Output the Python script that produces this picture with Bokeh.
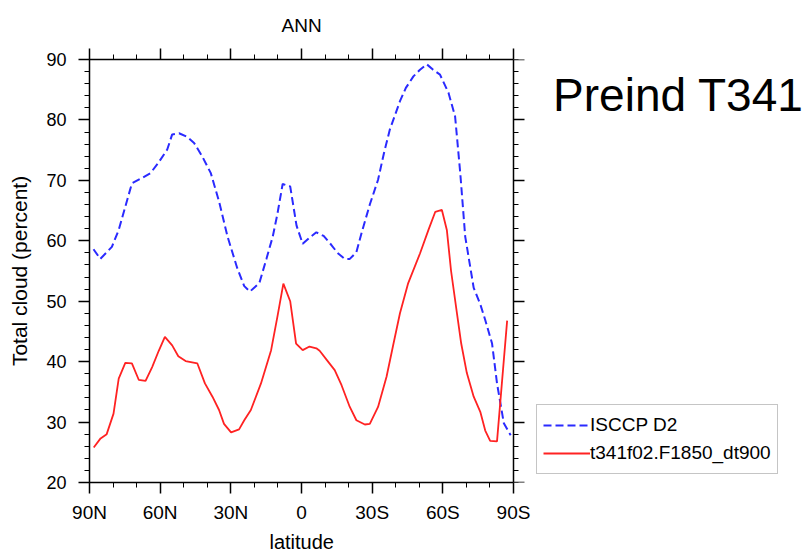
from bokeh.plotting import figure
from bokeh.models import Range1d, FixedTicker, LinearAxis, Label, Legend, LegendItem, Title
from bokeh.embed import file_html
from bokeh.resources import INLINE

# ---- data ----
lat_isccp = [88.3, 85.4, 80.5, 77.6, 72.0, 67.7, 64.1, 60.6, 57.0, 54.9, 52.0, 48.6, 45.6,
             42.2, 38.5, 35.0, 31.4, 27.3, 24.3, 21.9, 17.9, 14.9, 12.2, 10.2, 8.0, 4.8,
             2.1, -0.5, -3.4, -6.3, -9.4, -12.7, -15.3, -18.3, -20.5, -23.3, -25.5, -29.0,
             -32.5, -35.0, -37.5, -41.8, -44.3, -47.5, -50.3, -53.2, -55.9, -58.8, -62.4,
             -65.2, -67.4, -69.5, -73.1, -75.9, -78.0, -80.9, -83.0, -85.9, -88.8]
cld_isccp = [58.6, 57.0, 59.0, 61.8, 69.5, 70.4, 71.2, 73.0, 75.1, 77.6, 77.8, 77.2, 76.2,
             74.0, 71.2, 66.5, 60.7, 55.5, 52.5, 51.6, 53.0, 57.0, 60.7, 64.5, 69.4, 69.0,
             62.5, 59.5, 60.5, 61.4, 60.8, 59.3, 58.0, 57.0, 57.0, 58.1, 61.3, 66.0,
             70.1, 74.5, 78.4, 83.1, 85.3, 87.2, 88.3, 89.2, 88.3, 87.5, 84.5,
             80.6, 71.2, 60.7, 52.2, 49.5, 46.9, 43.0, 36.4, 29.8, 27.8]

lat_model = [88.2, 85.3, 82.7, 79.8, 77.6, 74.8, 72.0, 69.1, 66.2, 63.4, 60.6, 58.0, 54.9,
             52.3, 49.2, 44.2, 41.0, 37.8, 35.0, 32.9, 29.9, 26.5, 24.3, 21.5, 17.2, 12.9,
             10.2, 7.7, 4.8, 2.3, -0.5, -3.4, -6.3, -7.7, -10.7, -14.1, -17.0, -20.5,
             -23.3, -26.9, -29.0, -32.5, -36.1, -38.8, -41.8, -45.3, -50.3, -53.9, -56.8,
             -59.6, -61.7, -63.5, -66.0, -67.8, -70.2, -73.1, -75.9, -78.0, -80.1, -83.0,
             -87.3]
cld_model = [25.8, 27.3, 28.0, 31.4, 37.2, 39.8, 39.7, 37.0, 36.8, 39.1, 41.8, 44.1, 42.7,
             40.9, 40.1, 39.7, 36.4, 34.2, 32.0, 29.7, 28.3, 28.8, 30.3, 32.0, 36.4, 41.9,
             47.5, 52.9, 50.0, 43.0, 41.9, 42.5, 42.2, 41.8, 40.3, 38.6, 36.1, 32.5,
             30.3, 29.6, 29.7, 32.5, 37.5, 42.5, 48.0, 53.0, 57.9, 61.8, 64.8,
             65.1, 61.8, 55.0, 48.0, 43.0, 38.1, 34.2, 31.7, 28.6, 26.9, 26.8,
             46.8]

series_names = ["ISCCP D2", "t341f02.F1850_dt900"]
x_ticks = [90, 60, 30, 0, -30, -60, -90]
x_tick_labels = ["90N", "60N", "30N", "0", "30S", "60S", "90S"]
x_minor = [80, 70, 50, 40, 20, 10, -10, -20, -40, -50, -70, -80]
y_ticks = [20, 30, 40, 50, 60, 70, 80, 90]
y_minor = list(range(20, 91, 2))
lat_bounds = (-90, 90)

FONT = "Liberation Sans"

# layout: the visible plot box (90N..90S) is 424 px wide; the frame is extended to the
# right so that the legend and the annotation text can sit inside it.
LEFT = 89
BOX_W = 424
FRAME_W = 809 - LEFT
deg_per_px = 180.0 / BOX_W
x_end = 90 - FRAME_W * deg_per_px

p = figure(frame_width=FRAME_W, frame_height=423,
           min_border_left=LEFT, min_border_right=0, min_border_top=59, min_border_bottom=69,
           x_range=Range1d(90, x_end), y_range=Range1d(20, 90),
           output_backend="svg", toolbar_location=None,
           y_axis_label="Total cloud (percent)")
p.outline_line_color = None
p.xgrid.visible = False
p.ygrid.visible = False
p.background_fill_color = "white"
p.border_fill_color = "white"

# title "ANN", centred over the 90N..90S box
p.title.text = "ANN"
p.title.align = "left"
p.title.offset = BOX_W / 2 - 20
p.title.text_font = FONT
p.title.text_font_size = "19px"
p.title.text_font_style = "normal"
p.title.text_color = "black"
p.title.standoff = 25


def style_axis(ax):
    ax.axis_line_color = "black"
    ax.axis_line_width = 1.5
    ax.major_tick_line_color = "black"
    ax.minor_tick_line_color = "black"
    ax.major_tick_line_width = 1.5
    ax.minor_tick_line_width = 1
    ax.major_tick_out = 11
    ax.major_tick_in = 0
    ax.minor_tick_out = 5
    ax.minor_tick_in = 0
    ax.major_label_text_font = FONT
    ax.major_label_text_color = "black"
    ax.axis_label_text_font = FONT
    ax.axis_label_text_font_style = "normal"
    ax.axis_label_text_color = "black"


xb = p.xaxis[0]
style_axis(xb)
xb.bounds = lat_bounds
xb.ticker = FixedTicker(ticks=x_ticks, minor_ticks=x_minor)
xb.major_label_overrides = {t: l for t, l in zip(x_ticks, x_tick_labels)}
xb.major_label_text_font_size = "19px"
xb.major_label_standoff = 8

yl = p.yaxis[0]
style_axis(yl)
yl.ticker = FixedTicker(ticks=y_ticks, minor_ticks=y_minor)
yl.major_label_text_font_size = "18px"
yl.major_label_standoff = 12
yl.axis_label_text_font_size = "21px"
yl.axis_label_standoff = 12

xt = LinearAxis(ticker=FixedTicker(ticks=x_ticks, minor_ticks=x_minor), bounds=lat_bounds,
                major_label_overrides={t: "" for t in x_ticks})
style_axis(xt)
xt.major_label_standoff = 0
p.add_layout(xt, "above")

# right-hand edge of the box at 90S, ticks pointing outward (to the right)
yr = LinearAxis(ticker=FixedTicker(ticks=y_ticks, minor_ticks=y_minor),
                major_label_overrides={t: "" for t in y_ticks}, fixed_location=-90)
style_axis(yr)
yr.major_tick_out = 0
yr.major_tick_in = 11
yr.minor_tick_out = 0
yr.minor_tick_in = 5
yr.major_label_standoff = 0
p.add_layout(yr, "left")

xlab = Title(text="latitude", align="left", offset=BOX_W / 2 - 32, standoff=6,
             text_font=FONT, text_font_size="20px", text_font_style="normal",
             text_color="black")
p.add_layout(xlab, "below")

r1 = p.line(lat_isccp, cld_isccp, line_color="#2a2aff", line_width=2, line_dash="8 4")
r2 = p.line(lat_model, cld_model, line_color="#ff2222", line_width=1.8)

legend = Legend(items=[LegendItem(label=series_names[0], renderers=[r1]),
                       LegendItem(label=series_names[1], renderers=[r2])],
                location=(447, 8), orientation="vertical",
                border_line_color="#8c8c8c", border_line_width=1.5,
                background_fill_color="white", background_fill_alpha=1,
                padding=6, spacing=0, margin=0,
                glyph_width=47, glyph_height=28, label_height=28, label_standoff=0,
                label_text_font=FONT, label_text_font_size="19px", label_text_color="black")
p.add_layout(legend, "center")

note = Label(x=-106.8, y=84.2, text="Preind T341",
             text_align="left", text_baseline="alphabetic", text_font=FONT,
             text_font_size="46px", text_color="black")
p.add_layout(note)

open("out.html", "w").write(file_html(p, INLINE))
